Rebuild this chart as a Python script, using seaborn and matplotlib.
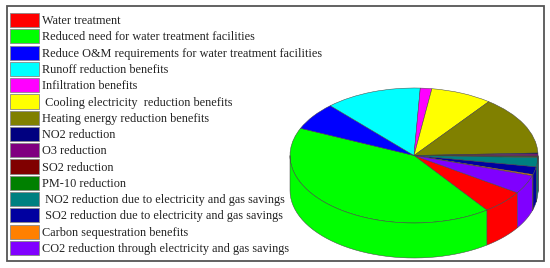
import numpy as np
import matplotlib
matplotlib.use("Agg")
import matplotlib.pyplot as plt
from matplotlib.patches import Patch, Rectangle, Polygon
import seaborn as sns

# benefit categories, same order as the legend
labels = ["Water treatment",
          "Reduced need for water treatment facilities",
          "Reduce O&M requirements for water treatment facilities",
          "Runoff reduction benefits",
          "Infiltration benefits",
          " Cooling electricity  reduction benefits",
          "Heating energy reduction benefits",
          "NO2 reduction",
          "O3 reduction",
          "SO2 reduction",
          "PM-10 reduction",
          " NO2 reduction due to electricity and gas savings",
          " SO2 reduction due to electricity and gas savings",
          "Carbon sequestration benefits",
          "CO2 reduction through electricity and gas savings"]
shares = [5.7, 41.6, 6.6, 12.6, 1.5, 8.0, 14.1, 0.25, 0.45, 0.2, 0.2, 2.2, 1.85, 0.3, 4.45]
colors = ["#ff0000", "#00ff00", "#0000ff", "#00ffff", "#ff00ff", "#ffff00", "#808000",
          "#000080", "#800080", "#800000", "#008000", "#008080", "#0000a0", "#ff8000", "#8000ff"]

W, H = 550, 268
sns.set_theme(style="white")
plt.rcParams["font.family"] = ["Liberation Serif", "DejaVu Serif"]
palette = sns.color_palette(colors)

fig = plt.figure(figsize=(W / 100, H / 100), dpi=100)

# outer frame of the picture
fig.patches.append(Rectangle((6.5 / W, 1 - 260.5 / H), 537.5 / W, 255 / H, transform=fig.transFigure,
                             fc="white", ec="#555555", lw=1.3, zorder=-1))

# pie axes: top face spans x 290-538, y 88-223, wall adds 35 px below
depth = 35 / 67.5
ax = fig.add_axes([290 / W, 1 - (223 + 35) / H, 248 / W, (135 + 35) / H])
wedges, _ = ax.pie(shares, colors=palette, startangle=-33.5, counterclock=False, radius=1,
                   wedgeprops={"linewidth": 0.35, "edgecolor": "#444444"})
ax.set_aspect("auto")
ax.set_xlim(-1, 1)
ax.set_ylim(-1 - depth, 1)

# side wall, only the front half of the rim shows
ends = -33.5 - np.cumsum(shares) * 3.6
starts = np.r_[-33.5, ends[:-1]]
for a0, a1, c in zip(starts, ends, palette):
    # bring the wedge into the -180..0 window when possible
    for shift in (0, 360):
        hi = min(a0 + shift, 0)
        lo = max(a1 + shift, -180)
        if hi > lo:
            t = np.radians(np.linspace(hi, lo, 40))
            top = np.c_[np.cos(t), np.sin(t)]
            bottom = (top - [0, depth])[::-1]
            ax.add_patch(Polygon(np.r_[top, bottom], closed=True, fc=c, ec="#444444", lw=0.35, clip_on=False))

handles = [Patch(fc=c, ec="#888888", lw=0.6) for c in palette]
fig.legend(handles, labels, loc="upper left", bbox_to_anchor=(10 / W, 1 - 13 / H), frameon=False,
           fontsize=8.8, borderpad=0, borderaxespad=0, handlelength=2.37, handleheight=1.41,
           labelspacing=0.17, handletextpad=0.25, labelcolor="#222222")

fig.savefig("out.png", dpi=100)
